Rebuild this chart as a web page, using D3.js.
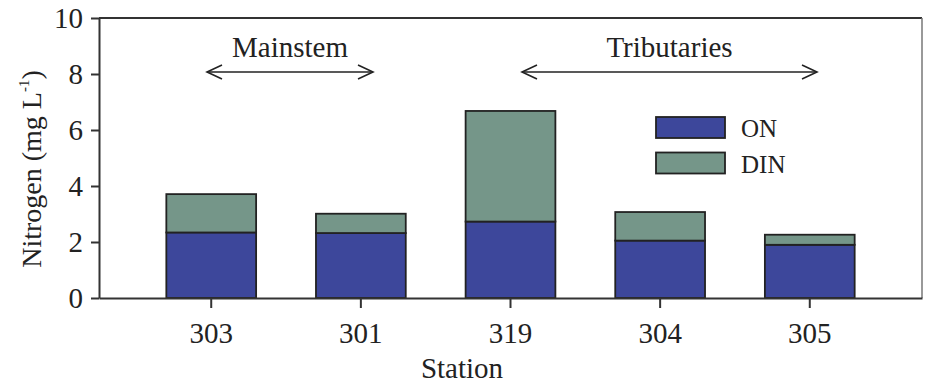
<!DOCTYPE html>
<html>
<head>
<meta charset="utf-8">
<script src="https://cdn.jsdelivr.net/npm/d3@7"></script>
<style>
  html, body { margin: 0; padding: 0; background: #fff; }
  svg { display: block; font-family: "Liberation Serif", "Times New Roman", serif; }
</style>
</head>
<body>
<svg id="chart" width="928" height="383"></svg>
<script>
// Nitrogen fractions by station (mg L-1)
const stations = ["303", "301", "319", "304", "305"];
const onValues  = [2.34, 2.32, 2.73, 2.05, 1.90];
const dinValues = [1.37, 0.69, 3.95, 1.02, 0.36];
const yTicks = [0, 2, 4, 6, 8, 10];
const seriesNames = ["ON", "DIN"];
const seriesColors = ["#3d479b", "#759689"];

const svg = d3.select("#chart");
const plot = { left: 99, right: 922, top: 18, bottom: 298 };

const x = d3.scaleBand()
  .domain(stations)
  .range([plot.left, plot.right])
  .paddingInner(0.4)
  .paddingOuter(0.45);

const y = d3.scaleLinear()
  .domain([0, 10])
  .range([plot.bottom, plot.top]);

// stacked data
const rows = stations.map((s, i) => ({ station: s, ON: onValues[i], DIN: dinValues[i] }));
const stack = d3.stack().keys(seriesNames)(rows);

// frame: top and right edges
svg.append("line")
  .attr("x1", plot.left).attr("x2", plot.right)
  .attr("y1", plot.top).attr("y2", plot.top)
  .attr("stroke", "#333").attr("stroke-width", 2);
svg.append("line")
  .attr("x1", plot.right).attr("x2", plot.right)
  .attr("y1", plot.top).attr("y2", plot.bottom)
  .attr("stroke", "#777").attr("stroke-width", 1.5);

// bars
stack.forEach((layer, li) => {
  svg.append("g")
    .selectAll("rect")
    .data(layer)
    .join("rect")
    .attr("x", d => x(d.data.station))
    .attr("width", x.bandwidth())
    .attr("y", d => y(d[1]))
    .attr("height", d => y(d[0]) - y(d[1]))
    .attr("fill", seriesColors[li])
    .attr("stroke", "#222")
    .attr("stroke-width", 1.8);
});

// y axis
const yAxis = svg.append("g")
  .attr("transform", `translate(${plot.left},0)`)
  .call(d3.axisLeft(y).tickValues(yTicks).tickSize(8).tickPadding(8).tickSizeOuter(0));
yAxis.select(".domain").attr("stroke", "#333").attr("stroke-width", 2);
yAxis.selectAll(".tick line").attr("stroke", "#333").attr("stroke-width", 2);
yAxis.selectAll(".tick text")
  .attr("font-family", "Liberation Serif, serif")
  .attr("font-size", 29).attr("fill", "#222").attr("dy", "0.34em");

// x axis
const xAxis = svg.append("g")
  .attr("transform", `translate(0,${plot.bottom})`)
  .call(d3.axisBottom(x).tickSize(10).tickPadding(14).tickSizeOuter(0));
xAxis.select(".domain").attr("stroke", "#333").attr("stroke-width", 2);
xAxis.selectAll(".tick line").attr("stroke", "#333").attr("stroke-width", 2);
xAxis.selectAll(".tick text")
  .attr("font-family", "Liberation Serif, serif")
  .attr("font-size", 29).attr("fill", "#222");

// axis titles
svg.append("text")
  .attr("x", 462).attr("y", 378)
  .attr("text-anchor", "middle")
  .attr("font-size", 29).attr("fill", "#222")
  .text("Station");

const yTitle = svg.append("text")
  .attr("transform", "translate(41,169) rotate(-90)")
  .attr("text-anchor", "middle")
  .attr("font-size", 28).attr("fill", "#222");
yTitle.append("tspan").text("Nitrogen (mg L");
yTitle.append("tspan").attr("font-size", 15).attr("dy", -12).text("-1");
yTitle.append("tspan").attr("dy", 12).text(")");

// group annotations with double-headed arrows
const groups = [
  { label: "Mainstem", from: 207, to: 373 },
  { label: "Tributaries", from: 522, to: 817 }
];
const arrowY = 72;
groups.forEach(g => {
  svg.append("text")
    .attr("x", (g.from + g.to) / 2).attr("y", 57)
    .attr("text-anchor", "middle")
    .attr("font-size", 29).attr("fill", "#222")
    .text(g.label);
  svg.append("line")
    .attr("x1", g.from).attr("x2", g.to)
    .attr("y1", arrowY).attr("y2", arrowY)
    .attr("stroke", "#222").attr("stroke-width", 1.6);
  const head = 15, half = 7;
  svg.append("path")
    .attr("d", `M${g.from + head},${arrowY - half}L${g.from},${arrowY}L${g.from + head},${arrowY + half}`)
    .attr("fill", "none").attr("stroke", "#222").attr("stroke-width", 1.6);
  svg.append("path")
    .attr("d", `M${g.to - head},${arrowY - half}L${g.to},${arrowY}L${g.to - head},${arrowY + half}`)
    .attr("fill", "none").attr("stroke", "#222").attr("stroke-width", 1.6);
});

// legend
const legend = svg.append("g").attr("transform", "translate(656,117)");
seriesNames.forEach((name, i) => {
  const row = legend.append("g").attr("transform", `translate(0,${i * 35.5})`);
  row.append("rect")
    .attr("width", 69).attr("height", 21)
    .attr("fill", seriesColors[i])
    .attr("stroke", "#222").attr("stroke-width", 1.8);
  row.append("text")
    .attr("x", 85).attr("y", 20)
    .attr("font-size", 25).attr("fill", "#222")
    .text(name);
});
</script>
</body>
</html>
